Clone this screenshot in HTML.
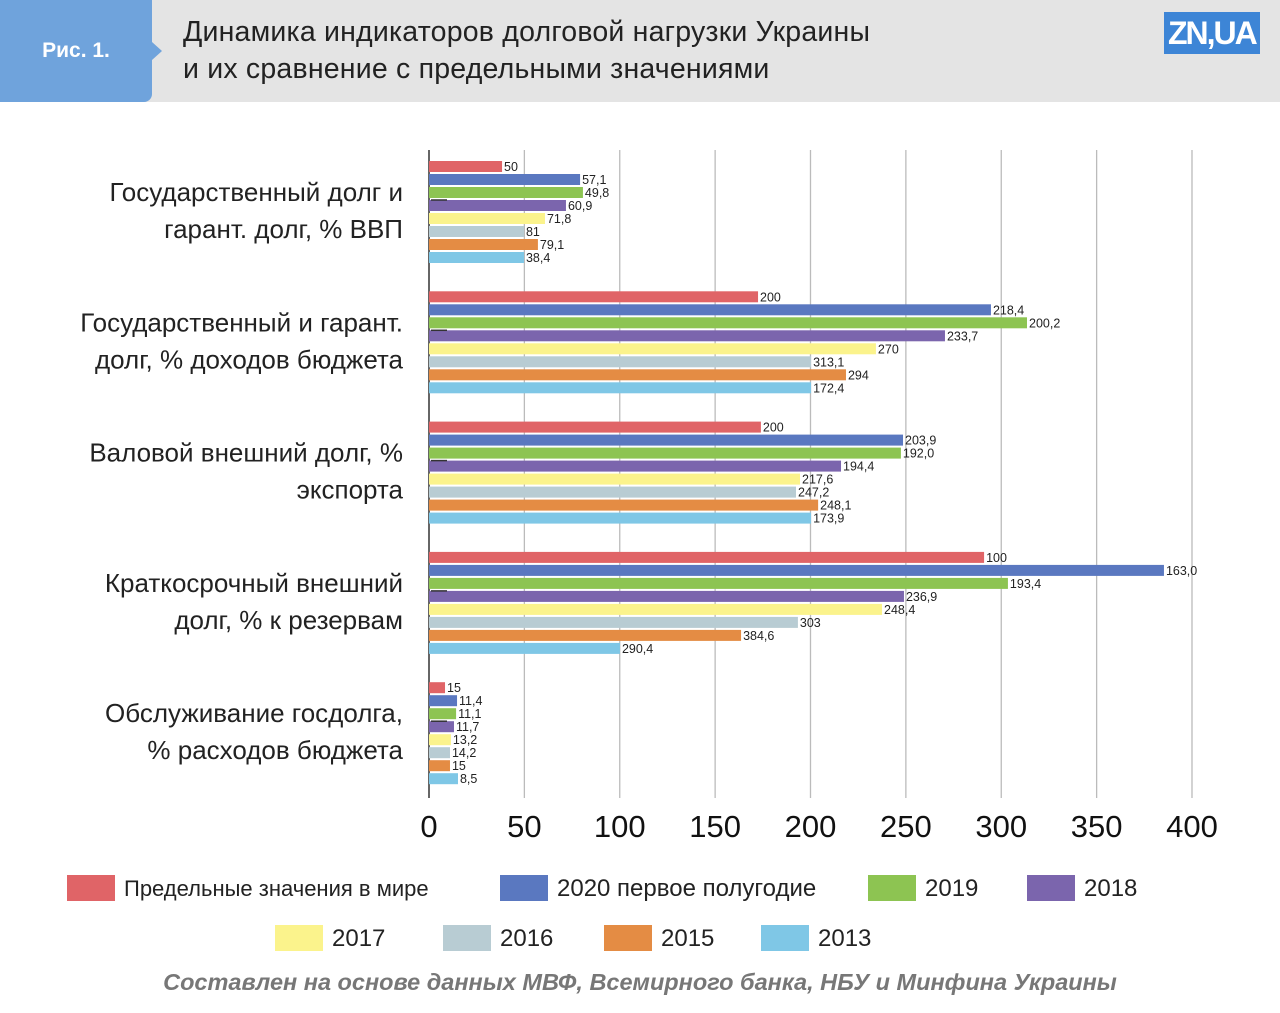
<!DOCTYPE html>
<html><head><meta charset="utf-8">
<style>
body{margin:0;width:1280px;height:1013px;background:#fff;font-family:"Liberation Sans","Noto Sans CJK SC",sans-serif;overflow:hidden;position:relative}
.hdr{position:absolute;left:0;top:0;width:1280px;height:102px;background:#e4e4e4}
.fig{position:absolute;left:0;top:0;width:152px;height:102px;background:#6fa3dc;border-radius:0 0 8px 0;color:#fff;font-weight:bold;font-size:21px;line-height:102px;text-align:center}
.fig:after{content:"";position:absolute;right:-10px;top:42px;border-left:10px solid #6fa3dc;border-top:9px solid transparent;border-bottom:9px solid transparent}
.title{position:absolute;left:183px;top:14px;font-size:28.5px;line-height:37px;color:#222;letter-spacing:0.2px}
.logo{position:absolute;left:1164px;top:12px;background:#3d85d6;color:#fff;font-weight:bold;font-size:32px;padding:0 4px;line-height:42px;letter-spacing:-2px}
.foot{position:absolute;left:0;width:1280px;top:969px;text-align:center;font-size:23.5px;font-weight:bold;font-style:italic;color:#777}
</style></head><body>
<div class="hdr"></div>
<div class="fig">Рис. 1.</div>
<div class="title">Динамика индикаторов долговой нагрузки Украины<br>и их сравнение с предельными значениями</div>
<div class="logo">ZN,UA</div>
<svg id="chart" width="1280" height="1013" style="position:absolute;left:0;top:0"></svg>
<div class="foot">Составлен на основе данных МВФ, Всемирного банка, НБУ и Минфина Украины</div>
<script>
const categories=[["Государственный долг и","гарант. долг, % ВВП"],["Государственный и гарант.","долг, % доходов бюджета"],["Валовой внешний долг, %","экспорта"],["Краткосрочный внешний","долг, % к резервам"],["Обслуживание госдолга,","% расходов бюджета"]];
const seriesNames=["Предельные значения в мире","2020 первое полугодие","2019","2018","2017","2016","2015","2013"];
const seriesColors=["#e06467","#5a78c0","#8dc452","#7b65ad","#fbf38c","#b8ccd3","#e48c44","#7fc7e6"];
const barValues=[
[38.3,79.2,80.7,71.8,60.8,49.8,57.1,49.8],
[172.5,294.6,313.5,270.5,234.3,200.3,218.6,200.3],
[174,248.5,247.4,216,194.5,192.4,204,200.3],
[291,385.3,303.5,249,237.5,193.4,163.6,100.1],
[8.4,14.7,14.2,13.1,11.5,11,11,15.2]];
const printedLabels=[
["50","57,1","49,8","60,9","71,8","81","79,1","38,4"],
["200","218,4","200,2","233,7","270","313,1","294","172,4"],
["200","203,9","192,0","194,4","217,6","247,2","248,1","173,9"],
["100","163,0","193,4","236,9","248,4","303","384,6","290,4"],
["15","11,4","11,1","11,7","13,2","14,2","15","8,5"]];
const ticks=[0,50,100,150,200,250,300,350,400];
const NS="http://www.w3.org/2000/svg",svg=document.getElementById("chart");
const x=v=>429+v*(1192-429)/400;
function mk(t,a,txt){const e=document.createElementNS(NS,t);for(const k in a)e.setAttribute(k,a[k]);if(txt!=null)e.textContent=txt;svg.appendChild(e);return e;}
ticks.forEach(t=>{
 const g=mk("line",{x1:x(t),x2:x(t),y1:150,y2:798,stroke:t?"#bbb":"#333","stroke-width":t?1.3:1.5});
 
 
 const l=mk("text",{x:x(t),y:837,"font-size":31,"text-anchor":"middle",fill:"#111"},String(t));
 
 
});
categories.forEach((c,gi)=>{
 const y0=161+gi*130.3;
 c.forEach((line,li)=>{
  const t=mk("text",{x:403,y:y0+40+li*37,"font-size":26,"text-anchor":"end",fill:"#222"},line);
  
  
 });
 barValues[gi].forEach((v,si)=>{
  const y=y0+si*13;
  const r=mk("rect",{x:429,y:y,width:x(v)-429,height:11,fill:seriesColors[si]});
  
  
  const t=mk("text",{x:x(v)+2,y:y+10,"font-size":12.5,fill:"#222"},printedLabels[gi][si]);
  
  
 });
 mk("line",{x1:431,x2:447,y1:y0+39,y2:y0+39,stroke:"#333","stroke-width":1.5});
});
const legPos=[[67,875,"Предельные значения в мире",22],[500,875,"2020 первое полугодие",24],[868,875,"2019",24],[1027,875,"2018",24],[275,925,"2017",24],[443,925,"2016",24],[604,925,"2015",24],[761,925,"2013",24]];
legPos.forEach((p,i)=>{
 const r=mk("rect",{x:p[0],y:p[1],width:48,height:26,fill:seriesColors[i]});
 
 
 const t=mk("text",{x:p[0]+57,y:p[1]+21,"font-size":p[3],fill:"#222"},seriesNames[i]);
 
 
});
</script>
</body></html>
